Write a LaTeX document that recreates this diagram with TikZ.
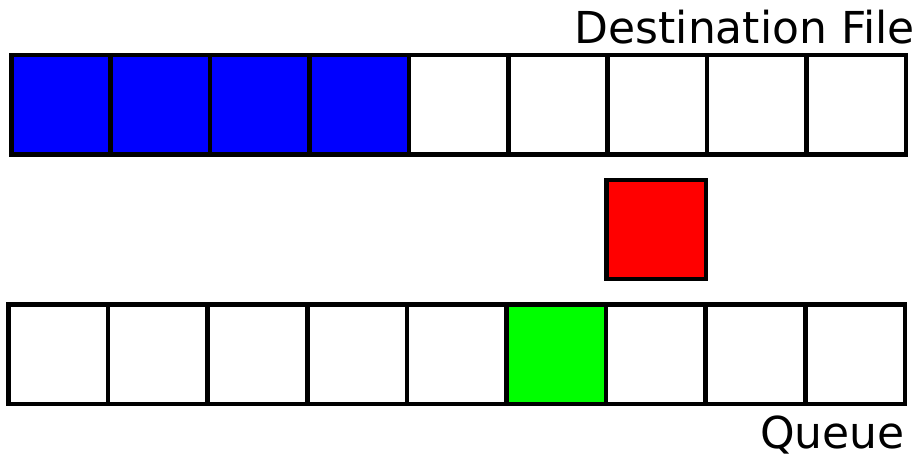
\documentclass[tikz,border=0pt]{standalone}
\usepackage{fontspec}
\setmainfont{DejaVu Sans}
\definecolor{fileblue}{RGB}{0,0,255}
\definecolor{blockred}{RGB}{255,0,0}
\definecolor{queuegreen}{RGB}{0,255,0}
\tikzset{
    cell/.style={draw=black, line width=4.7pt},
    label/.style={font=\fontsize{44}{50}\selectfont, inner sep=0pt}
}
\begin{document}
\begin{tikzpicture}[x=1pt, y=-1pt]
        \useasboundingbox (0, 0) rectangle (921, 459);
        % destination file
        \foreach \i in {0,...,8} {
            \ifnum\i<4
                \draw[cell, fill=fileblue] (11.3+\i*99.4, 55) rectangle ++(99.4, 99.5);
            \else
                \draw[cell] (11.3+\i*99.4, 55) rectangle ++(99.4, 99.5);
            \fi
        }
        \node[label, anchor=base east] (dest) at (915, 43) {Destination File};
        % block in transit
        \draw[cell, fill=blockred] (606.5, 180) rectangle (706, 279);
        % queue
        \foreach \i in {0,...,8} {
            \ifnum\i=5
                \draw[cell, fill=queuegreen] (8.5+\i*99.6, 304.3) rectangle ++(99.6, 99.7);
            \else
                \draw[cell] (8.5+\i*99.6, 304.3) rectangle ++(99.6, 99.7);
            \fi
        }
        \node[label, anchor=base east] (queue) at (905, 448) {Queue};
    \end{tikzpicture}
\end{document}
